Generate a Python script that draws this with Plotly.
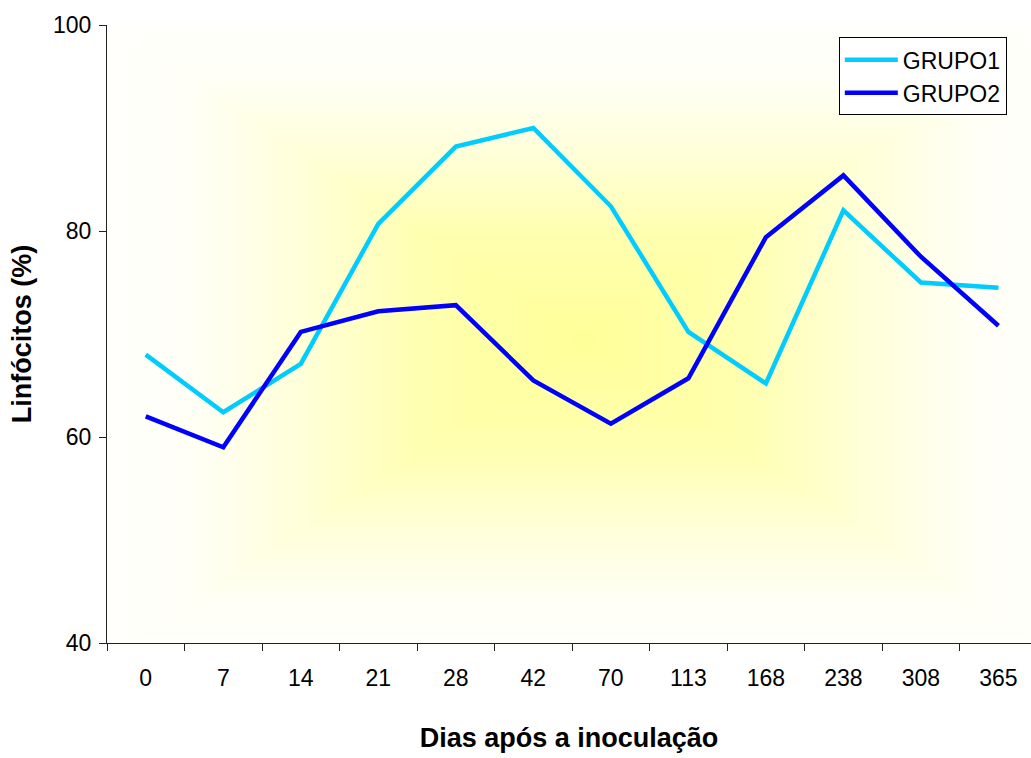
import numpy as np
import plotly.graph_objects as go

# Days after inoculation (category labels)
dias = ["0", "7", "14", "21", "28", "42", "70", "113", "168", "238", "308", "365"]

# Lymphocyte percentages per group
grupo1 = [68.0, 62.4, 67.1, 80.7, 88.2, 90.0, 82.4, 70.2, 65.2, 82.0, 75.0, 74.5]
grupo2 = [62.0, 59.0, 70.2, 72.2, 72.8, 65.5, 61.3, 65.7, 79.4, 85.4, 77.5, 70.8]

FONT = "Liberation Sans, Arial, sans-serif"
W, H = 1031, 758
ML, MR, MT, MB = 107, 0, 25, 115

# Rectangular "from center" yellow-to-white fill for the plot area
nx, ny = 240, 160
gx = np.linspace(0, 1, nx)
gy = np.linspace(0, 1, ny)
cx, cy = 0.515, 0.49
GX, GY = np.meshgrid(gx, gy)
t = np.maximum(np.abs(GX - cx) / 0.5, np.abs(GY - cy) / 0.5)
t = np.clip(t, 0, 1)
fill_scale = [
    [0.0, "#FFFF99"],
    [0.35, "#FFFFB0"],
    [0.6, "#FFFFD8"],
    [0.85, "#FFFFF6"],
    [1.0, "#FFFFFC"],
]

fig = go.Figure()

fig.add_trace(go.Heatmap(
    x=gx, y=gy, z=t, zmin=0, zmax=1,
    colorscale=fill_scale, showscale=False, zsmooth="best",
    hoverinfo="skip", xaxis="x", yaxis="y",
))

fig.add_trace(go.Scatter(
    x=dias, y=grupo1, mode="lines", name="GRUPO1",
    line=dict(color="#00CCFF", width=4.5),
    xaxis="x2", yaxis="y2",
))
fig.add_trace(go.Scatter(
    x=dias, y=grupo2, mode="lines", name="GRUPO2",
    line=dict(color="#0000FF", width=4.5),
    xaxis="x2", yaxis="y2",
))

fig.update_layout(
    width=W, height=H,
    margin=dict(l=ML, r=MR, t=MT, b=MB, pad=0),
    paper_bgcolor="white",
    plot_bgcolor="white",
    font=dict(family=FONT, size=23, color="black"),
    showlegend=True,
    legend=dict(
        x=0.792, y=0.98, xanchor="left", yanchor="top",
        bgcolor="white", bordercolor="black", borderwidth=1,
        font=dict(family=FONT, size=23, color="black"),
        itemwidth=53, tracegroupgap=0,
    ),
    xaxis=dict(range=[0, 1], visible=False, fixedrange=True),
    yaxis=dict(range=[0, 1], visible=False, fixedrange=True),
    xaxis2=dict(
        type="category", overlaying="x", anchor="y2", side="bottom",
        range=[-0.5, 11.42],
        tickson="boundaries", ticks="outside", ticklen=7, tickcolor="#222",
        ticklabelstandoff=14,
        showline=True, linecolor="#222", linewidth=1,
        showgrid=False, zeroline=False,
        tickfont=dict(family=FONT, size=23),
        title=dict(text="<b>Dias após a inoculação</b>",
                   font=dict(family=FONT, size=27), standoff=38),
    ),
    yaxis2=dict(
        overlaying="y", anchor="x2", side="left",
        range=[40, 100], tickvals=[40, 60, 80, 100],
        ticks="outside", ticklen=7, tickcolor="#222",
        ticklabelstandoff=3,
        showline=True, linecolor="#222", linewidth=1,
        showgrid=False, zeroline=False,
        tickfont=dict(family=FONT, size=23),
        title=dict(text="<b>Linfócitos (%)</b>",
                   font=dict(family=FONT, size=27), standoff=13),
    ),
)

fig.write_html("out.html")
